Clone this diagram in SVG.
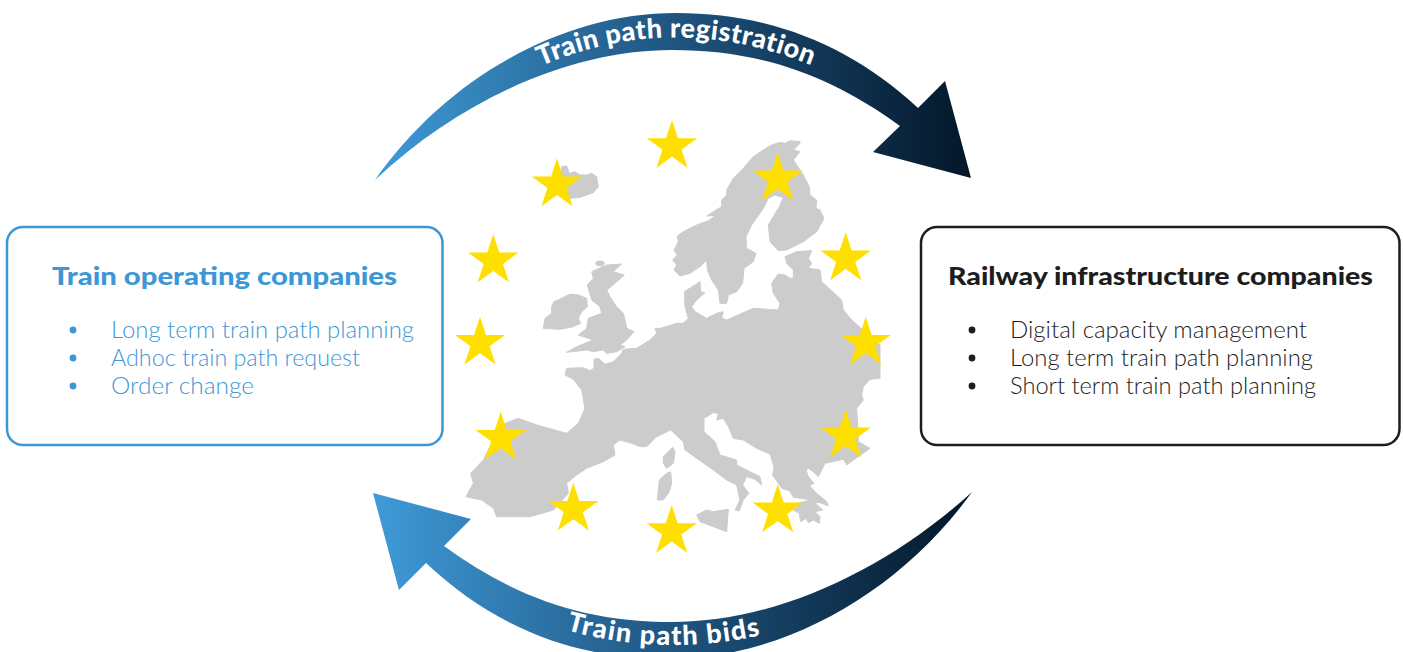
<svg xmlns="http://www.w3.org/2000/svg" xmlns:xlink="http://www.w3.org/1999/xlink" width="1403" height="652" viewBox="0 0 1403 652">
<style>
.box{fill:#fff;stroke-width:2.5}
.title{font-family:"Lato","Liberation Sans",Arial,sans-serif;font-weight:900;font-size:25px}
.item{font-family:"Lato","Liberation Sans",sans-serif;font-weight:300;font-size:23px}
.blue{fill:#3d97d6}
.dark{fill:#1d1d1d}
.curve{font-family:"Lato","Liberation Sans",Arial,sans-serif;font-weight:900;font-size:27px;fill:#fff}
.land{fill:#cccccc;stroke:#cccccc;stroke-width:3;stroke-linejoin:round}
.star{fill:#ffdf00}
</style>
<defs>
<linearGradient id="g" gradientUnits="userSpaceOnUse" x1="373" y1="0" x2="970" y2="0">
<stop offset="0" stop-color="#3f9bd8"/><stop offset="0.5" stop-color="#1f5581"/><stop offset="1" stop-color="#031729"/>
</linearGradient>
<polygon id="s" points="0,-26.5 5.95,-8.2 25.2,-8.2 9.6,3.1 15.6,21.4 0,10.1 -15.6,21.4 -9.6,3.1 -25.2,-8.2 -5.95,-8.2"/>
<path id="top" d="M541,66 Q676,8 818,68"/>
<path id="bot" d="M566,630 Q665,658 766,634"/>
</defs>
<rect width="1403" height="652" fill="#fff"/>
<g id="map" class="land" transform="translate(450,320) scale(0.33333)">
<path d="M1050,-535 L1020,-538 1005,-530 990,-533 965,-525 940,-510 910,-490 880,-455 850,-425 830,-390 830,-375 815,-360 815,-340 790,-325 770,-312 798,-314 775,-298 740,-285 700,-265 682,-252 685,-235 672,-210 682,-195 668,-180 680,-165 672,-150 690,-132 720,-140 750,-160 770,-180 772,-150 785,-120 805,-90 810,-50 830,-50 835,-75 860,-85 878,-110 882,-155 910,-175 918,-200 890,-215 888,-250 905,-285 940,-335 955,-365 975,-375 1000,-367 988,-340 955,-285 960,-235 985,-208 1010,-210 1060,-235 1100,-265 1122,-305 1110,-330 1098,-335 1100,-360 1080,-375 1078,-400 1060,-435 1030,-480 1050,-505 1030,-510 1050,-530 Z"/>
<path d="M335,-460 350,-462 358,-440 375,-445 390,-435 410,-435 425,-440 440,-430 445,-400 430,-382 390,-368 360,-365 330,-400 Z"/>
<path d="M312,-55 335,-65 360,-78 385,-75 410,-65 412,-40 395,-25 385,-5 392,10 370,20 330,28 280,25 285,-5 305,-20 305,-40 Z"/>
<ellipse cx="450" cy="-170" rx="13" ry="7"/>
<path d="M470,-165 515,-168 490,-145 523,-135 495,-110 470,-90 480,-70 500,-40 520,-20 525,0 530,25 552,35 530,60 510,75 525,80 500,95 470,100 460,90 430,95 410,90 350,97 380,80 430,60 385,45 410,25 415,-5 455,-20 450,-40 425,-60 412,-105 430,-125 425,-145 Z"/>
<path d="M632,25 680,10 700,10 715,-5 705,-40 703,-85 750,-115 752,-85 765,-82 740,-60 725,-40 735,-25 770,-5 800,-20 820,-25 815,-5 830,0 910,-35 985,-30 990,-50 970,-80 965,-110 985,-138 1005,-135 1020,-125 1030,-125 1030,-150 1010,-170 1005,-190 1040,-205 1085,-208 1075,-185 1085,-170 1075,-155 1110,-150 1115,-115 1175,-60 1180,-30 1205,0 1290,75 1290,175 1260,178 1240,200 1235,225 1240,240 1220,265 1222,300 1225,365 1260,385 1190,435 1180,418 1125,430 1115,450 1105,470 1090,455 1075,445 1068,450 1075,470 1092,490 1078,497 1100,520 1130,545 1135,558 1110,548 1095,548 1118,570 1095,575 1110,590 1108,610 1090,600 1075,608 1068,595 1052,605 1048,580 1030,570 1040,550 1085,540 1030,532 1020,513 995,505 968,465 972,440 960,402 920,385 880,360 850,355 835,320 820,295 800,300 805,280 790,278 762,295 762,335 795,365 810,405 860,420 860,435 930,470 935,495 915,478 890,470 878,495 897,520 880,540 868,572 855,570 870,540 860,495 830,480 790,450 705,390 700,365 662,330 620,350 590,380 570,380 545,370 510,360 490,375 495,405 460,425 410,445 380,465 350,490 355,520 310,570 240,590 140,590 130,565 95,540 48,530 70,490 62,460 100,420 120,380 165,310 205,295 260,315 350,340 385,310 405,265 395,210 370,178 345,165 350,145 400,143 420,152 432,145 432,118 445,115 465,133 490,125 515,100 520,88 560,85 600,60 620,40 615,25 Z"/>
<path d="M668,382 675,395 670,430 650,445 640,430 640,410 Z"/>
<path d="M650,460 662,455 665,490 658,515 640,540 622,540 628,480 Z"/>
<path d="M740,585 770,570 790,575 835,568 830,635 790,620 750,605 Z"/>
</g>
<g id="stars" class="star">
<use xlink:href="#s" href="#s" x="672" y="146.5"/>
<use xlink:href="#s" href="#s" x="557" y="184.8"/>
<use xlink:href="#s" href="#s" x="777.7" y="178.8"/>
<use xlink:href="#s" href="#s" x="845.7" y="258.8"/>
<use xlink:href="#s" href="#s" x="493.3" y="260.8"/>
<use xlink:href="#s" href="#s" x="480" y="343.2"/>
<use xlink:href="#s" href="#s" x="865.7" y="343.2"/>
<use xlink:href="#s" href="#s" x="500.7" y="438.2"/>
<use xlink:href="#s" href="#s" x="845.7" y="435.8"/>
<use xlink:href="#s" href="#s" x="573.3" y="509.2"/>
<use xlink:href="#s" href="#s" x="777.7" y="510.8"/>
<use xlink:href="#s" href="#s" x="671.7" y="531.5"/>
</g>
<g id="connectors">
<path d="M375,180 C445,80 560,13 676,13 C770,13 850,45 918,108 L945,81 L971,178 L873,152 L900,126 C830,75 760,50 672,50 C570,50 460,100 375,180 Z" fill="url(#g)"/>
<path d="M972,492 C900,592 784,659 668,659 C574,659 494,627 426,563 L399,590 L373,493 L471,519 L444,546 C514,597 584,622 672,622 C774,622 884,572 972,492 Z" fill="url(#g)"/>
<text class="curve" letter-spacing="0.5"><textPath href="#top" xlink:href="#top">Train path registration</textPath></text>
<text class="curve" letter-spacing="1.4"><textPath href="#bot" xlink:href="#bot">Train path bids</textPath></text>
</g>
<g id="train-operating-companies">
<rect class="box" x="7" y="227" width="435.5" height="218" rx="16" stroke="#3d97d6"/>
<text class="title blue" x="52" y="285" textLength="345" lengthAdjust="spacingAndGlyphs">Train operating companies</text>
<circle class="blue" cx="73" cy="330" r="3.4"/><circle class="blue" cx="73" cy="358" r="3.4"/><circle class="blue" cx="73" cy="386" r="3.4"/>
<text class="item blue" x="111" y="338" textLength="303" lengthAdjust="spacingAndGlyphs">Long term train path planning</text>
<text class="item blue" x="111" y="366" textLength="249" lengthAdjust="spacingAndGlyphs">Adhoc train path request</text>
<text class="item blue" x="111" y="394" textLength="143" lengthAdjust="spacingAndGlyphs">Order change</text>
</g>
<g id="railway-infrastructure-companies">
<rect class="box" x="921" y="227" width="478.5" height="218" rx="16" stroke="#1d1d1d"/>
<text class="title dark" x="948" y="285" textLength="425" lengthAdjust="spacingAndGlyphs">Railway infrastructure companies</text>
<circle class="dark" cx="972" cy="330" r="3.4"/><circle class="dark" cx="972" cy="358" r="3.4"/><circle class="dark" cx="972" cy="386" r="3.4"/>
<text class="item dark" x="1010" y="338" textLength="297" lengthAdjust="spacingAndGlyphs">Digital capacity management</text>
<text class="item dark" x="1010" y="366" textLength="303" lengthAdjust="spacingAndGlyphs">Long term train path planning</text>
<text class="item dark" x="1010" y="394" textLength="306" lengthAdjust="spacingAndGlyphs">Short term train path planning</text>
</g>
</svg>
